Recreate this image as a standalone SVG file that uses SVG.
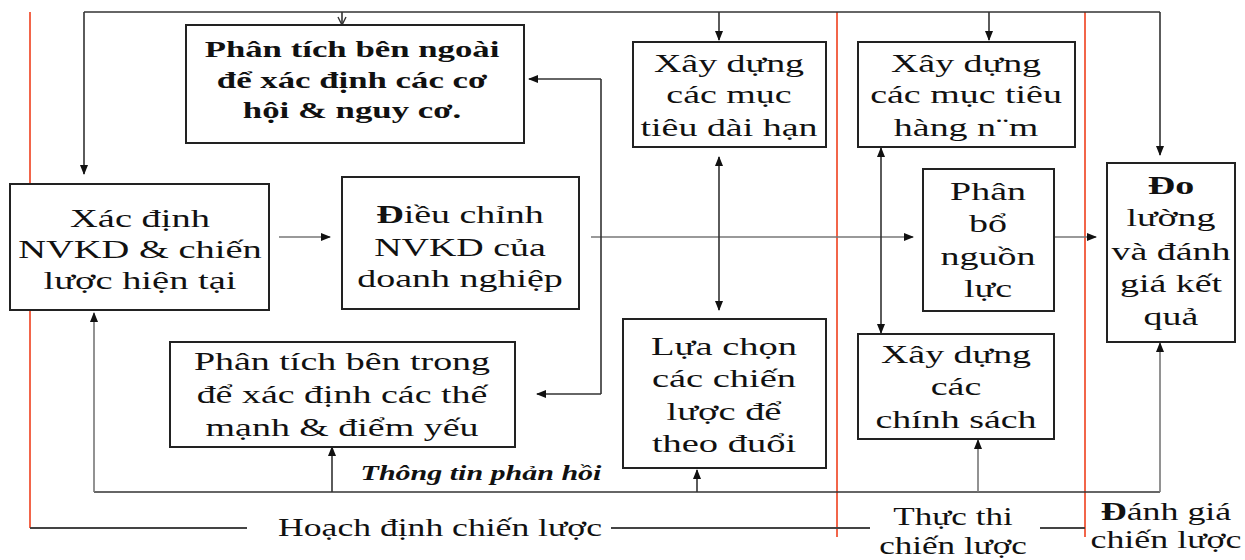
<svg xmlns="http://www.w3.org/2000/svg" width="1245" height="560" viewBox="0 0 1245 560">
  <style>
    .box { fill: #fff; stroke: #222; stroke-width: 2; }
    .t { font-size: 26px; text-anchor: middle; fill: #111; }
    .tb { font-size: 24px; font-weight: bold; text-anchor: middle; fill: #111; }
    .fb { font-size: 20px; font-weight: bold; font-style: italic; text-anchor: middle; fill: #111; }
    .b { font-weight: bold; }
    .ln { fill: none; stroke: #333; stroke-width: 1.6; }
    .lg { fill: none; stroke: #777; stroke-width: 1.6; }
    .red { fill: none; stroke: #f2654a; stroke-width: 2; }
    .base { fill: none; stroke: #444; stroke-width: 2; }
  </style>
  <defs>
    <marker id="ah" markerUnits="userSpaceOnUse" markerWidth="10" markerHeight="8" refX="9" refY="4" orient="auto-start-reverse">
      <path d="M0,0 L10,4 L0,8 Z" fill="#111"/>
    </marker>
    <marker id="av" markerUnits="userSpaceOnUse" markerWidth="10" markerHeight="10" refX="9" refY="5" orient="auto">
      <path d="M1,1 L9,5 L1,9" fill="none" stroke="#333" stroke-width="1.4"/>
    </marker>
  </defs>

  <rect width="1245" height="560" fill="#fff"/>

  <!-- phase dividers and phase baseline -->
  <g id="phases">
    <path class="red" d="M30 12 V528"/>
    <path class="red" d="M837 12 V537"/>
    <path class="red" d="M1085 12 V537"/>
    <path class="base" d="M30 528 H247"/>
    <path class="base" d="M611 528 H870"/>
    <path class="base" d="M1040 528 H1085"/>
  </g>

  <g font-family="Liberation Serif, serif">
  <!-- connectors -->
  <g id="connectors">
    <!-- top feedback line -->
    <path class="ln" d="M84 12 H1160"/>
    <path class="ln" d="M84 12 V174" marker-end="url(#ah)"/>
    <path class="ln" d="M342 12 V25" marker-end="url(#av)"/>
    <path class="ln" d="M719 12 V40" marker-end="url(#ah)"/>
    <path class="ln" d="M989 12 V40" marker-end="url(#ah)"/>
    <path class="ln" d="M1160 12 V155" marker-end="url(#ah)"/>
    <!-- main flow -->
    <path class="lg" d="M279 237 H330" marker-end="url(#ah)"/>
    <path class="lg" d="M591 237 H913" marker-end="url(#ah)"/>
    <path class="lg" d="M1054 237 H1096" marker-end="url(#ah)"/>
    <!-- analysis bracket -->
    <path class="ln" d="M601 79 V394"/>
    <path class="ln" d="M601 79 H529" marker-end="url(#ah)"/>
    <path class="ln" d="M601 394 H537" marker-end="url(#ah)"/>
    <!-- two-way links -->
    <path class="ln" d="M719 157 V310" marker-start="url(#ah)" marker-end="url(#ah)"/>
    <path class="ln" d="M881 148 V333" marker-start="url(#ah)" marker-end="url(#ah)"/>
    <!-- bottom feedback line -->
    <path class="ln" d="M94 492 H1160"/>
    <path class="lg" d="M94 492 V313" marker-end="url(#ah)"/>
    <path class="ln" d="M332 492 V447" marker-end="url(#ah)"/>
    <path class="ln" d="M697 492 V470" marker-end="url(#ah)"/>
    <path class="lg" d="M978 492 V440" marker-end="url(#ah)"/>
    <path class="lg" d="M1160 492 V343" marker-end="url(#ah)"/>
    <g transform="translate(481 0) scale(1.5 1)">
      <text class="fb" x="0" y="480">Thông tin phản hồi</text>
    </g>
  </g>

  <g id="n-external">
    <rect class="box" x="186" y="25" width="338" height="118"/>
    <g transform="translate(352 0) scale(1.45 1)">
      <text class="tb" x="0" y="57">Phân tích bên ngoài</text>
      <text class="tb" x="0" y="88">để xác định các cơ</text>
      <text class="tb" x="0" y="118">hội &amp; nguy cơ.</text>
    </g>
  </g>

  <g id="n-current">
    <rect class="box" x="10" y="184" width="259" height="126"/>
    <g transform="translate(140 0) scale(1.48 1)">
      <text class="t" x="0" y="227">Xác định</text>
      <text class="t" x="0" y="258">NVKD &amp; chiến</text>
      <text class="t" x="0" y="289">lược hiện tại</text>
    </g>
  </g>

  <g id="n-adjust">
    <rect class="box" x="342" y="177" width="237" height="132"/>
    <g transform="translate(460 0) scale(1.46 1)">
      <text class="t" x="0" y="223"><tspan class="b">Đ</tspan>iều chỉnh</text>
      <text class="t" x="0" y="256">NVKD của</text>
      <text class="t" x="0" y="287">doanh nghiệp</text>
    </g>
  </g>

  <g id="n-internal">
    <rect class="box" x="170" y="342" width="345" height="105"/>
    <g transform="translate(342 0) scale(1.46 1)">
      <text class="t" x="0" y="370">Phân tích bên trong</text>
      <text class="t" x="0" y="403">để xác định các thế</text>
      <text class="t" x="0" y="436">mạnh &amp; điểm yếu</text>
    </g>
  </g>

  <g id="n-longterm">
    <rect class="box" x="633" y="42" width="193" height="105"/>
    <g transform="translate(729 0) scale(1.46 1)">
      <text class="t" x="0" y="72">Xây dựng</text>
      <text class="t" x="0" y="103">các mục</text>
      <text class="t" x="0" y="136">tiêu dài hạn</text>
    </g>
  </g>

  <g id="n-choose">
    <rect class="box" x="623" y="319" width="203" height="149"/>
    <g transform="translate(724 0) scale(1.48 1)">
      <text class="t" x="0" y="355">Lựa chọn</text>
      <text class="t" x="0" y="387">các chiến</text>
      <text class="t" x="0" y="420">lược để</text>
      <text class="t" x="0" y="452">theo đuổi</text>
    </g>
  </g>

  <g id="n-annual">
    <rect class="box" x="858" y="42" width="217" height="105"/>
    <g transform="translate(966 0) scale(1.46 1)">
      <text class="t" x="0" y="72">Xây dựng</text>
      <text class="t" x="0" y="103">các mục tiêu</text>
      <text class="t" x="0" y="136">hàng n¨m</text>
    </g>
  </g>

  <g id="n-resources">
    <rect class="box" x="923" y="169" width="131" height="142"/>
    <g transform="translate(988 0) scale(1.46 1)">
      <text class="t" x="0" y="200">Phân</text>
      <text class="t" x="0" y="232">bổ</text>
      <text class="t" x="0" y="265">nguồn</text>
      <text class="t" x="0" y="297">lực</text>
    </g>
  </g>

  <g id="n-policies">
    <rect class="box" x="858" y="334" width="196" height="105"/>
    <g transform="translate(956 0) scale(1.46 1)">
      <text class="t" x="0" y="363">Xây dựng</text>
      <text class="t" x="0" y="395">các</text>
      <text class="t" x="0" y="428">chính sách</text>
    </g>
  </g>

  <g id="n-measure">
    <rect class="box" x="1107" y="163" width="128" height="179"/>
    <g transform="translate(1171 0) scale(1.46 1)">
      <text class="t" x="0" y="194"><tspan class="b">Đo</tspan></text>
      <text class="t" x="0" y="226">lường</text>
      <text class="t" x="0" y="260">và đánh</text>
      <text class="t" x="0" y="292">giá kết</text>
      <text class="t" x="0" y="325">quả</text>
    </g>
  </g>

  <!-- phase labels -->
  <g id="labels">
    <g transform="translate(440 0) scale(1.37 1)">
      <text class="t" x="0" y="536">Hoạch định chiến lược</text>
    </g>
    <g transform="translate(953 0) scale(1.35 1)">
      <text class="t" x="0" y="525">Thực thi</text>
      <text class="t" x="0" y="554">chiến lược</text>
    </g>
    <g transform="translate(1166 0) scale(1.38 1)">
      <text class="t" x="0" y="520"><tspan class="b">Đ</tspan>ánh giá</text>
      <text class="t" x="0" y="548">chiến lược</text>
    </g>
  </g>
  </g>
</svg>
